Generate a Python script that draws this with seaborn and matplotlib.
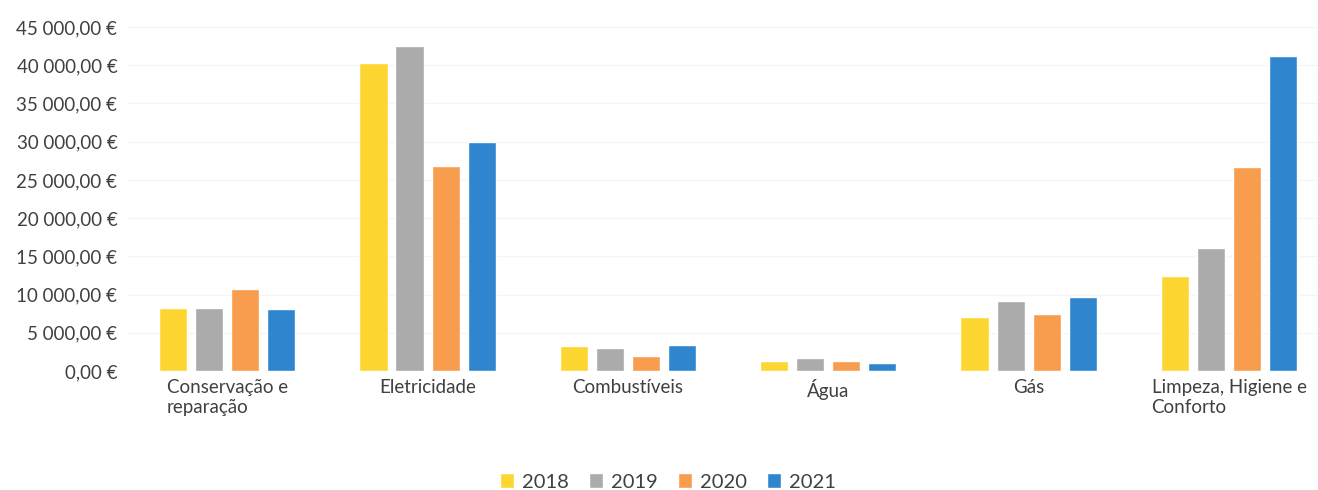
import pandas as pd
import seaborn as sns
import matplotlib.pyplot as plt
from matplotlib.ticker import FuncFormatter, MultipleLocator

# dados
categorias = ["Conservação e\nreparação", "Eletricidade", "Combustíveis",
              "Água", "Gás", "Limpeza, Higiene e\nConforto"]
anos = ["2018", "2019", "2020", "2021"]
v2018 = [8200, 40300, 3300, 1350, 7100, 12400]
v2019 = [8200, 42500, 3000, 1750, 9200, 16100]
v2020 = [10700, 26800, 2000, 1250, 7500, 26700]
v2021 = [8100, 29900, 3450, 1100, 9700, 41200]
cores = ["#FDD631", "#ABABAB", "#F89C4E", "#2F86CE"]

df = pd.DataFrame({"categoria": categorias * 4,
                   "ano": sum([[a] * 6 for a in anos], []),
                   "valor": v2018 + v2019 + v2020 + v2021})

sns.set_style("white")
plt.rcParams["font.family"] = ["Lato", "DejaVu Sans"]
texto = "#404040"

fig = plt.figure(figsize=(13.18, 4.9), dpi=100)
ax = fig.add_axes([127 / 1318, 1 - 371 / 490, (1318 - 127) / 1318, (371 - 27) / 490])

sns.barplot(data=df, x="categoria", y="valor", hue="ano", palette=cores,
            width=0.72, gap=0.22, saturation=1, ax=ax, legend=True)

ax.set_ylim(0, 45000)
ax.set_xlim(-0.5, (1318 - 227) / 200.4)
ax.yaxis.set_major_locator(MultipleLocator(5000))
fmt = lambda v, p: f"{v:,.2f}".replace(",", " ").replace(".", ",") + " €"
ax.yaxis.set_major_formatter(FuncFormatter(fmt))
ax.grid(axis="y", color="#f5f5f5", linewidth=1)
ax.set_axisbelow(True)
for s in ax.spines.values():
    s.set_visible(False)
ax.set_xlabel("")
ax.set_ylabel("")
ax.tick_params(axis="both", length=0, labelsize=13.5, colors=texto)
ax.tick_params(axis="y", pad=7)
ax.tick_params(axis="x", pad=6)
for lab in ax.get_xticklabels():
    lab.set_multialignment("left")

h, l = ax.get_legend_handles_labels()
ax.get_legend().remove()
fig.legend(h, l, loc="center", bbox_to_anchor=(668 / 1318, 1 - 482 / 490),
           ncol=4, frameon=False, fontsize=14.5, handlelength=0.7, handleheight=0.7,
           handletextpad=0.4, columnspacing=1.0, labelcolor=texto)

fig.savefig("out.png", dpi=100)
